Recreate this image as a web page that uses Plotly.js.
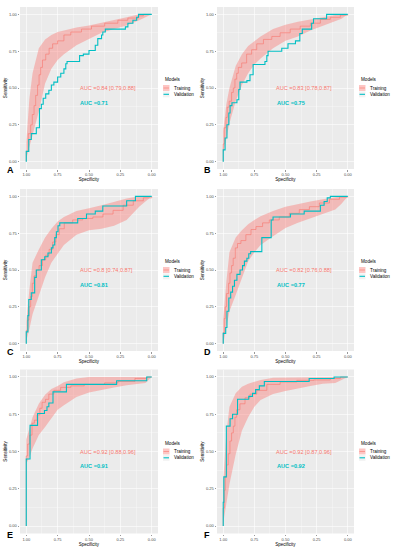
<!DOCTYPE html>
<html><head><meta charset="utf-8">
<script src="https://cdn.plot.ly/plotly-3.0.1.min.js"></script>
<style>html,body{margin:0;padding:0;background:#fff}#chart{width:395px;height:550px}</style>
</head><body><div id="chart"></div>
<script>
// ---------- data ----------
const panelLetters = ["A","B","C","D","E","F"];
const trainAUC = ["AUC =0.84 [0.79,0.88]","AUC =0.83 [0.78,0.87]","AUC =0.8 [0.74,0.87]","AUC =0.82 [0.76,0.88]","AUC =0.92 [0.88,0.96]","AUC =0.92 [0.87,0.96]"];
const valAUC = ["AUC =0.71","AUC =0.75","AUC =0.81","AUC =0.77","AUC =0.91","AUC =0.92"];
const seriesNames = ["Training","Validation"];
const legendTitle = "Models";
const tickVals = [1,0.75,0.5,0.25,0];
const minorVals = [0.875,0.625,0.375,0.125];

// confidence band (training) on a specificity grid
const bandSpec = [1,0.975,0.95,0.9,0.85,0.8,0.75,0.7,0.6,0.5,0.4,0.3,0.2,0.1,0.05,0];
const A_bandLow  = [0.02,0.10,0.17,0.34,0.53,0.63,0.69,0.73,0.79,0.835,0.875,0.90,0.925,0.96,0.98,1.0];
const A_bandHigh = [0.13,0.43,0.60,0.77,0.83,0.86,0.88,0.89,0.91,0.925,0.945,0.96,0.98,1.0,1.0,1.0];
const B_bandLow  = [0.05,0.16,0.26,0.41,0.52,0.60,0.66,0.70,0.77,0.82,0.85,0.89,0.92,0.95,0.97,1.0];
const B_bandHigh = [0.21,0.39,0.50,0.65,0.73,0.785,0.82,0.85,0.90,0.93,0.95,0.966,0.98,0.995,1.0,1.0];
const C_bandLow  = [0.02,0.10,0.20,0.33,0.45,0.55,0.61,0.67,0.74,0.77,0.78,0.80,0.84,0.93,0.965,1.0];
const C_bandHigh = [0.15,0.37,0.55,0.64,0.72,0.78,0.83,0.86,0.90,0.92,0.94,0.96,0.985,1.0,1.0,1.0];
const D_bandLow  = [0.0,0.10,0.22,0.33,0.45,0.56,0.62,0.67,0.73,0.785,0.82,0.85,0.875,0.91,0.95,1.0];
const D_bandHigh = [0.17,0.42,0.62,0.72,0.77,0.81,0.84,0.865,0.90,0.93,0.95,0.965,0.98,0.995,1.0,1.0];
const E_bandLow  = [0.42,0.46,0.52,0.61,0.665,0.72,0.78,0.81,0.865,0.895,0.915,0.93,0.945,0.955,0.96,1.0];
const E_bandHigh = [0.58,0.66,0.73,0.82,0.88,0.92,0.94,0.965,0.99,1.0,1.0,1.0,1.0,1.0,1.0,1.0];
const F_bandLow  = [0.02,0.15,0.28,0.48,0.64,0.73,0.80,0.845,0.885,0.905,0.925,0.94,0.955,0.96,0.98,1.0];
const F_bandHigh = [0.30,0.62,0.80,0.89,0.935,0.955,0.97,0.98,0.995,1.0,1.0,1.0,1.0,1.0,1.0,1.0];

// training ROC
const A_trSpec = [1,1,0.984,0.965,0.952,0.938,0.925,0.91,0.898,0.885,0.871,0.845,0.818,0.79,0.75,0.70,0.645,0.56,0.48,0.375,0.27,0.19,0.107,0.067,0];
const A_trSens = [0,0.07,0.19,0.25,0.32,0.38,0.45,0.52,0.59,0.64,0.69,0.73,0.77,0.80,0.82,0.86,0.88,0.90,0.92,0.94,0.96,0.975,0.99,1.0,1.0];
const B_trSpec = [1,1,0.992,0.978,0.968,0.952,0.933,0.919,0.906,0.892,0.879,0.852,0.812,0.772,0.731,0.677,0.61,0.543,0.462,0.382,0.30,0.22,0.14,0.06,0];
const B_trSens = [0,0.12,0.23,0.30,0.37,0.41,0.47,0.50,0.56,0.60,0.64,0.67,0.73,0.76,0.80,0.83,0.85,0.875,0.90,0.92,0.94,0.966,0.98,0.995,1.0];
const C_trSpec = [1,1,0.989,0.979,0.965,0.952,0.938,0.92,0.898,0.871,0.845,0.818,0.79,0.764,0.737,0.697,0.63,0.55,0.469,0.389,0.308,0.228,0.147,0.067,0];
const C_trSens = [0,0.09,0.16,0.25,0.32,0.41,0.46,0.50,0.53,0.57,0.60,0.64,0.69,0.74,0.78,0.82,0.84,0.85,0.86,0.88,0.905,0.94,0.97,0.99,1.0];
const D_trSpec = [1,1,0.992,0.984,0.973,0.957,0.946,0.933,0.92,0.903,0.885,0.858,0.818,0.777,0.737,0.684,0.63,0.55,0.469,0.389,0.308,0.228,0.147,0.067,0];
const D_trSens = [0,0.075,0.17,0.25,0.34,0.41,0.48,0.53,0.58,0.65,0.68,0.70,0.74,0.775,0.795,0.82,0.84,0.86,0.885,0.91,0.93,0.955,0.98,0.995,1.0];
const E_trSpec = [1,1,0.989,0.973,0.954,0.935,0.914,0.892,0.874,0.847,0.82,0.78,0.726,0.645,0.538,0.376,0.269,0.134,0.04,0];
const E_trSens = [0,0.47,0.55,0.61,0.69,0.71,0.745,0.79,0.83,0.85,0.885,0.91,0.93,0.94,0.95,0.96,0.97,0.99,1.0,1.0];
const F_trSpec = [1,1,0.992,0.984,0.973,0.96,0.946,0.933,0.919,0.906,0.892,0.866,0.825,0.785,0.731,0.65,0.543,0.409,0.274,0.14,0.059,0];
const F_trSens = [0,0.12,0.24,0.33,0.41,0.485,0.57,0.625,0.67,0.73,0.78,0.82,0.86,0.885,0.91,0.95,0.966,0.977,0.98,0.99,1.0,1.0];

// validation ROC
const A_valSpec = [1,1,0.98,0.96,0.92,0.895,0.88,0.865,0.845,0.82,0.80,0.78,0.75,0.725,0.70,0.685,0.675,0.575,0.545,0.50,0.45,0.43,0.40,0.39,0.37,0.21,0.19,0.15,0.12,0.105,0];
const A_valSens = [0,0.07,0.15,0.19,0.23,0.36,0.39,0.43,0.46,0.485,0.52,0.54,0.575,0.60,0.63,0.665,0.68,0.72,0.73,0.755,0.79,0.835,0.86,0.88,0.90,0.915,0.94,0.96,0.98,1.0,1.0];
const B_valSpec = [1,1,0.985,0.97,0.955,0.945,0.93,0.89,0.875,0.865,0.81,0.785,0.76,0.665,0.65,0.64,0.53,0.48,0.42,0.385,0.365,0.29,0.275,0.17,0];
const B_valSens = [0,0.08,0.16,0.25,0.33,0.38,0.40,0.42,0.49,0.54,0.55,0.59,0.66,0.68,0.72,0.75,0.77,0.80,0.82,0.87,0.90,0.94,0.97,1.0,1.0];
const C_valSpec = [1,1,0.987,0.98,0.96,0.933,0.92,0.88,0.853,0.827,0.80,0.787,0.773,0.76,0.747,0.733,0.59,0.52,0.45,0.39,0.20,0.13,0];
const C_valSens = [0,0.08,0.19,0.30,0.345,0.45,0.50,0.57,0.59,0.615,0.65,0.67,0.72,0.76,0.80,0.82,0.85,0.88,0.90,0.935,0.97,1.0,1.0];
const D_valSpec = [1,1,0.98,0.97,0.955,0.94,0.925,0.91,0.89,0.865,0.845,0.83,0.81,0.795,0.78,0.69,0.615,0.60,0.46,0.35,0.22,0.19,0.165,0.14,0];
const D_valSens = [0,0.07,0.11,0.22,0.31,0.35,0.39,0.43,0.47,0.50,0.53,0.56,0.58,0.61,0.625,0.72,0.84,0.86,0.88,0.90,0.94,0.965,0.99,1.0,1.0];
const E_valSpec = [1,1,0.97,0.91,0.855,0.835,0.82,0.787,0.68,0.28,0.04,0];
const E_valSens = [0,0.45,0.675,0.755,0.775,0.80,0.825,0.90,0.95,0.975,1.0,1.0];
const F_valSpec = [1,1,0.995,0.975,0.945,0.925,0.885,0.795,0.765,0.74,0.71,0.67,0.31,0.11,0];
const F_valSens = [0,0.16,0.33,0.67,0.72,0.75,0.85,0.87,0.89,0.915,0.94,0.97,0.99,1.0,1.0];

// ---------- build ----------
const panels = [
  {tr:[A_trSpec,A_trSens], val:[A_valSpec,A_valSens], band:[A_bandLow,A_bandHigh]},
  {tr:[B_trSpec,B_trSens], val:[B_valSpec,B_valSens], band:[B_bandLow,B_bandHigh]},
  {tr:[C_trSpec,C_trSens], val:[C_valSpec,C_valSens], band:[C_bandLow,C_bandHigh]},
  {tr:[D_trSpec,D_trSens], val:[D_valSpec,D_valSens], band:[D_bandLow,D_bandHigh]},
  {tr:[E_trSpec,E_trSens], val:[E_valSpec,E_valSens], band:[E_bandLow,E_bandHigh]},
  {tr:[F_trSpec,F_trSens], val:[F_valSpec,F_valSens], band:[F_bandLow,F_bandHigh]}
];
const W = 395, H = 550;
const RED = '#F8766D', TEAL = '#00BFC4', BANDFILL = 'rgba(250,120,115,0.42)';
const FONT = 'Liberation Sans, Arial, sans-serif';
const cols = [[20,158],[217,354]];
const rows = [[7,169],[189,351],[369.5,533.5]];
const px = x => x / W, py = y => 1 - y / H;

const data = [];
const layout = {
  width: W, height: H, margin: {l:0,r:0,t:0,b:0},
  paper_bgcolor: '#ffffff', plot_bgcolor: '#EBEBEB',
  showlegend: false, font: {family: FONT},
  annotations: [], shapes: []
};

panels.forEach((p, i) => {
  const c = i % 2, r = Math.floor(i / 2);
  const sfx = i === 0 ? '' : String(i + 1);
  const xa = 'x' + sfx, ya = 'y' + sfx;
  const [l, rr] = cols[c], [t, b] = rows[r];
  const common = {
    ticks: 'outside', ticklen: 1.5, tickwidth: 0.5, tickcolor: '#333333',
    tickfont: {size: 4, color: '#4D4D4D', family: FONT},
    tickvals: tickVals, tickformat: '.2f',
    showgrid: true, gridcolor: '#FFFFFF', gridwidth: 0.6,
    minor: {tickvals: minorVals, showgrid: true, gridcolor: '#FFFFFF', gridwidth: 0.3, ticks: ''},
    zeroline: false, showline: false, fixedrange: true
  };
  layout['xaxis' + sfx] = Object.assign({}, common, {
    domain: [px(l), px(rr)], anchor: ya, range: [1.05, -0.05],
    title: {text: 'Specificity', font: {size: 4.5, color: '#000', family: FONT}, standoff: 1}
  });
  layout['yaxis' + sfx] = Object.assign({}, common, {
    domain: [py(b), py(t)], anchor: xa, range: [-0.05, 1.05],
    title: {text: 'Sensitivity', font: {size: 4.5, color: '#000', family: FONT}, standoff: 1}
  });

  // band
  const bx = bandSpec.concat(bandSpec.slice().reverse());
  const by = p.band[0].concat(p.band[1].slice().reverse());
  data.push({x: bx, y: by, xaxis: xa, yaxis: ya, mode: 'lines', fill: 'toself',
    fillcolor: BANDFILL, line: {width: 0, color: 'rgba(0,0,0,0)'}, hoverinfo: 'skip'});
  data.push({x: p.tr[0], y: p.tr[1], xaxis: xa, yaxis: ya, mode: 'lines', name: seriesNames[0],
    line: {color: RED, width: 0.6, shape: 'hv'}});
  data.push({x: p.val[0], y: p.val[1], xaxis: xa, yaxis: ya, mode: 'lines', name: seriesNames[1],
    line: {color: TEAL, width: 1.1, shape: 'hv'}});

  // AUC texts
  layout.annotations.push({xref: xa, yref: ya, x: 0.59, y: 0.5, xanchor: 'left', yanchor: 'middle',
    text: trainAUC[i], showarrow: false, font: {size: 5.6, color: RED, family: FONT}});
  layout.annotations.push({xref: xa, yref: ya, x: 0.585, y: 0.40, xanchor: 'left', yanchor: 'middle',
    text: '<b>' + valAUC[i] + '</b>', showarrow: false, font: {size: 5.6, color: TEAL, family: FONT}});

  // panel letter
  layout.annotations.push({xref: 'paper', yref: 'paper', x: px(l - 10), y: py(b + 1.2),
    xanchor: 'center', yanchor: 'middle', text: '<b>' + panelLetters[i] + '</b>', showarrow: false,
    font: {size: 9, color: '#000', family: FONT}});

  // legend
  const lx = rr + 5, mid = (t + b) / 2;
  layout.annotations.push({xref: 'paper', yref: 'paper', x: px(lx), y: py(mid - 8.5), xanchor: 'left', yanchor: 'middle',
    text: legendTitle, showarrow: false, font: {size: 4.6, color: '#000', family: FONT}});
  [[mid, seriesNames[0]], [mid + 6.3, seriesNames[1]]].forEach(([yc, name], k) => {
    layout.shapes.push({type: 'rect', xref: 'paper', yref: 'paper', x0: px(lx), x1: px(lx + 6.5),
      y0: py(yc - 3), y1: py(yc + 3), fillcolor: k === 0 ? BANDFILL : '#F2F2F2', line: {width: 0}});
    layout.shapes.push({type: 'line', xref: 'paper', yref: 'paper', x0: px(lx + 0.5), x1: px(lx + 6),
      y0: py(yc), y1: py(yc), line: {color: k === 0 ? RED : TEAL, width: k === 0 ? 0.6 : 1.1}});
    layout.annotations.push({xref: 'paper', yref: 'paper', x: px(lx + 8.5), y: py(yc), xanchor: 'left', yanchor: 'middle',
      text: name, showarrow: false, font: {size: 4.6, color: '#000', family: FONT}});
  });
});

Plotly.newPlot('chart', data, layout, {staticPlot: true, displayModeBar: false});
</script>
</body></html>
